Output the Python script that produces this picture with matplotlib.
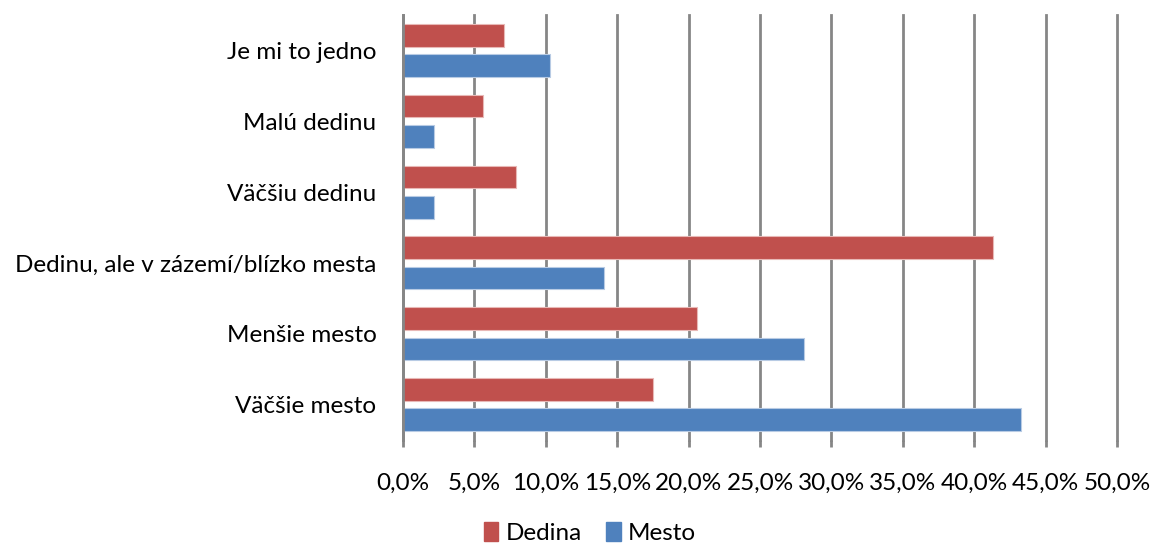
import matplotlib.pyplot as plt
import numpy as np
from matplotlib.patches import Patch
from matplotlib.ticker import FuncFormatter

# survey: preferred place to live, share of answers by current residence
categories = [
    "Je mi to jedno",
    "Malú dedinu",
    "Väčšiu dedinu",
    "Dedinu, ale v zázemí/blízko mesta",
    "Menšie mesto",
    "Väčšie mesto",
]
dedina = [7.1, 5.6, 7.9, 41.3, 20.6, 17.5]
mesto = [10.3, 2.2, 2.2, 14.1, 28.1, 43.3]

RED = "#C0504D"
BLUE = "#4F81BD"
GRID = "#868686"

plt.rcParams["font.family"] = ["Lato", "DejaVu Sans"]

fig = plt.figure(figsize=(11.53, 5.45), dpi=100)
ax = fig.add_axes([403 / 1153, 1 - 440 / 545, (1117 - 403) / 1153, (440 - 15) / 545])

y = np.arange(len(categories))
h = 0.32
off = 0.213
ax.barh(y - off, dedina, height=h, color=RED, edgecolor="#e8b8b6", linewidth=0.8, zorder=3)
ax.barh(y + off, mesto, height=h, color=BLUE, edgecolor="#b8cbe4", linewidth=0.8, zorder=3)

ax.set_xlim(0, 50)
ax.set_ylim(len(categories) - 0.5, -0.5)
ax.set_xticks(np.arange(0, 51, 5))
ax.xaxis.set_major_formatter(FuncFormatter(lambda v, _: f"{v:.1f}%".replace(".", ",")))
ax.set_yticks(y)
ax.set_yticklabels(categories)

ax.grid(axis="x", color=GRID, linewidth=2, zorder=0)
for gl in ax.get_xgridlines():
    gl.set_clip_on(False)
for s in ("top", "right", "bottom"):
    ax.spines[s].set_visible(False)
ax.spines["left"].set_color(GRID)
ax.spines["left"].set_linewidth(2)
ax.spines["left"].set_zorder(4)

ax.tick_params(axis="x", length=5, width=2, color=GRID, pad=19, labelsize=17.5)
ax.tick_params(axis="y", length=0, pad=19, labelsize=17.5)

handles = [Patch(color=RED, label="Dedina"), Patch(color=BLUE, label="Mesto")]
fig.legend(handles=handles, loc="center", bbox_to_anchor=(590 / 1153, 1 - 533 / 545),
           ncol=2, frameon=False, fontsize=17.5, handlelength=0.6, handleheight=0.8,
           handletextpad=0.3, columnspacing=1.0)

fig.savefig("out.png", dpi=100)
